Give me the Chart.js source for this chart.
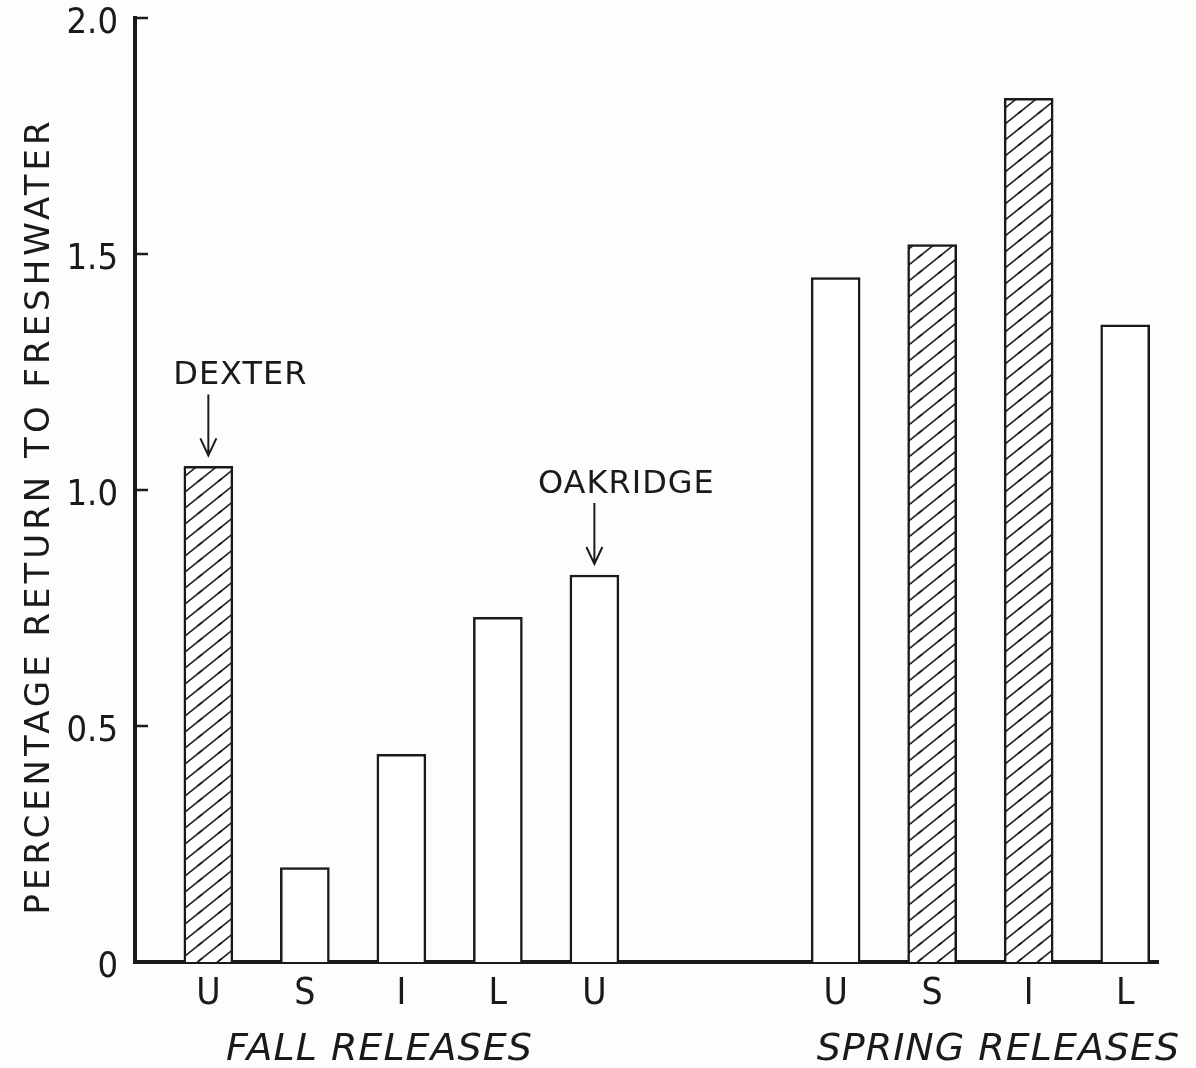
<!DOCTYPE html>
<html>
<head>
<meta charset="utf-8">
<script src="https://cdn.jsdelivr.net/npm/chart.js@4/dist/chart.umd.min.js"></script>
<style>
  body { margin: 0; background: #fdfdfc; }
  #wrap { width: 1196px; height: 1068px; position: relative; }
</style>
</head>
<body>
<div id="wrap"><canvas id="returnChart"></canvas></div>
<script>
// release stock labels and where they sit along the x axis (fall group, gap, spring group)
const releaseLetters = ["U", "S", "I", "L", "U", "U", "S", "I", "L"];
const releaseSlots = [0, 1, 2, 3, 4, 6.5, 7.5, 8.5, 9.5];
const returnPercent = [1.05, 0.20, 0.44, 0.73, 0.82, 1.45, 1.52, 1.83, 1.35];
const hatched = [true, false, false, false, false, false, true, true, false];

const yTickValues = [0, 0.5, 1.0, 1.5, 2.0];
const yTickLabels = ["0", "0.5", "1.0", "1.5", "2.0"];
const yTitle = "PERCENTAGE RETURN TO FRESHWATER";

const groupNames = ["FALL RELEASES", "SPRING RELEASES"];
const groupMembers = [[0, 1, 2, 3, 4], [5, 6, 7, 8]];

const notes = ["DEXTER", "OAKRIDGE"];
const noteBars = [0, 4];

const FONT = "'DejaVu Sans', sans-serif";
const NARROW = "'DejaVu Sans Condensed', 'DejaVu Sans', sans-serif";
const INK = "#1a1a1a";

function makeHatch() {
  const w = 20, h = 16;
  const c = document.createElement("canvas");
  c.width = w; c.height = h;
  const g = c.getContext("2d");
  g.fillStyle = "#ffffff";
  g.fillRect(0, 0, w, h);
  g.strokeStyle = INK;
  g.lineWidth = 1.6;
  for (let dx = -w; dx <= w; dx += w) {
    for (let dy = -h; dy <= h; dy += h) {
      g.beginPath();
      g.moveTo(dx - 2, dy + h + 1.6);
      g.lineTo(dx + w + 2, dy - 1.6);
      g.stroke();
    }
  }
  return g.createPattern(c, "repeat");
}

const hatchFill = makeHatch();

const extras = {
  id: "extras",
  afterDraw(chart) {
    const ctx = chart.ctx;
    const area = chart.chartArea;
    const y = chart.scales.y;
    const x = chart.scales.x;
    const bars = chart.getDatasetMeta(0).data;
    ctx.save();
    ctx.strokeStyle = INK;
    ctx.fillStyle = INK;

    // small inward ticks on the y axis
    ctx.lineWidth = 2.5;
    yTickValues.forEach(v => {
      if (v == 0) return;
      const py = y.getPixelForValue(v);
      ctx.beginPath();
      ctx.moveTo(area.left, py);
      ctx.lineTo(area.left + 13, py);
      ctx.stroke();
    });

    // y title, spaced out like the hand lettering
    ctx.save();
    ctx.translate(40, (area.top + area.bottom) / 2 + 26);
    ctx.rotate(-Math.PI / 2);
    ctx.font = "34px " + FONT;
    ctx.letterSpacing = "4px";
    ctx.textAlign = "center";
    ctx.textBaseline = "middle";
    ctx.fillText(yTitle, 0, 0);
    ctx.restore();

    // DEXTER / OAKRIDGE notes with arrows
    ctx.font = "32px " + FONT;
    ctx.letterSpacing = "1px";
    ctx.textAlign = "center";
    ctx.textBaseline = "alphabetic";
    notes.forEach((txt, i) => {
      const b = bars[noteBars[i]];
      ctx.fillText(txt, b.x + 32, b.y - 82);
      ctx.lineWidth = 2;
      ctx.beginPath();
      ctx.moveTo(b.x, b.y - 72);
      ctx.lineTo(b.x, b.y - 11);
      ctx.moveTo(b.x - 8, b.y - 28);
      ctx.lineTo(b.x, b.y - 11);
      ctx.lineTo(b.x + 8, b.y - 28);
      ctx.stroke();
    });

    // group names under the letters (nudged like the hand placement)
    ctx.font = "italic 38px " + FONT;
    ctx.letterSpacing = "1px";
    ctx.textBaseline = "middle";
    const nudge = [-22, 18];
    groupNames.forEach((name, i) => {
      const m = groupMembers[i];
      const mid = (releaseSlots[m[0]] + releaseSlots[m[m.length - 1]]) / 2;
      ctx.fillText(name, x.getPixelForValue(mid) + nudge[i], 1050);
    });
    ctx.restore();
  }
};

const returnChartData = {
  datasets: [
    {
      data: releaseSlots.map((s, i) => ({ x: s, y: returnPercent[i] })),
      backgroundColor: hatched.map(h => h ? hatchFill : "#ffffff"),
      borderColor: INK,
      borderWidth: 2.5,
      borderSkipped: "bottom",
      barThickness: 49,
    },
  ],
};

const returnChartConfig = {
  type: "bar",
  data: returnChartData,
  options: {
    responsive: true,
    maintainAspectRatio: false,
    animation: false,
    layout: { padding: { top: 0, left: 8, right: 38, bottom: 0 } },
    plugins: {
      legend: { display: false },
      tooltip: { enabled: false },
    },
    scales: {
      x: {
        type: "linear",
        offset: false,
        min: -0.76,
        max: 9.84,
        grid: { display: false, drawTicks: false },
        border: { display: true, color: INK, width: 4 },
        afterBuildTicks: (scale) => {
          scale.ticks = releaseSlots.map(v => ({ value: v }));
        },
        afterFit: (scale) => {
          scale.height = 106;
          scale.paddingLeft = 0;
          scale.paddingRight = 0;
        },
        ticks: {
          autoSkip: false,
          maxRotation: 0,
          padding: 10,
          color: INK,
          font: { family: NARROW, size: 37 },
          callback: (v, i) => releaseLetters[i],
        },
      },
      y: {
        min: 0,
        max: 2,
        grid: { display: false, drawTicks: false },
        border: { display: true, color: INK, width: 4 },
        afterBuildTicks: (scale) => {
          scale.ticks = yTickValues.map(v => ({ value: v }));
        },
        afterFit: (scale) => {
          scale.width = 127;
          scale.paddingTop = 18;
          scale.paddingBottom = 0;
        },
        ticks: {
          padding: 17,
          labelOffset: 6,
          color: INK,
          font: { family: NARROW, size: 36, lineHeight: 1.0 },
          callback: (v, i) => yTickLabels[i],
        },
      },
    },
  },
  plugins: [extras],
};

const returnChart = new Chart(document.getElementById("returnChart"), returnChartConfig);
</script>
</body>
</html>
